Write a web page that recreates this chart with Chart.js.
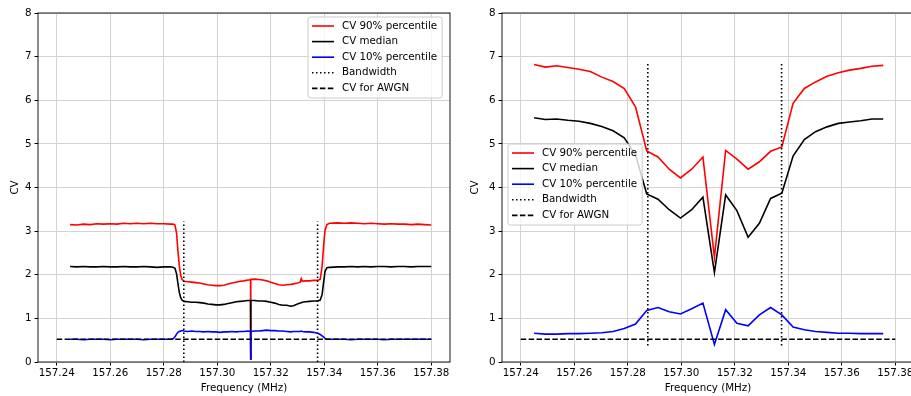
<!DOCTYPE html>
<html>
<head>
<meta charset="utf-8">
<script src="https://cdn.jsdelivr.net/npm/chart.js@4.4.1/dist/chart.umd.min.js"></script>
<style>
  html, body { margin: 0; padding: 0; background: #fff; overflow: hidden; width: 911px; height: 396px; }
  .panel { position: absolute; top: 0; }
</style>
</head>
<body>
<div class="panel" style="left:0"><canvas id="leftChart" width="460" height="396"></canvas></div>
<div class="panel" style="left:460px"><canvas id="rightChart" width="460" height="396"></canvas></div>
<script>
// fine-resolution spectrum (left panel)
const leftFreq = [
  157.2450, 157.2475, 157.2500, 157.2525, 157.2550, 157.2575, 157.2600, 157.2625, 157.2650, 157.2675,
  157.2700, 157.2725, 157.2750, 157.2775, 157.2800, 157.2825, 157.2835, 157.2842, 157.2848, 157.2853,
  157.2858, 157.2863, 157.2868, 157.2875, 157.2890, 157.2905, 157.2920, 157.2935, 157.2950, 157.2965,
  157.2980, 157.2995, 157.3010, 157.3025, 157.3040, 157.3055, 157.3070, 157.3085, 157.3100, 157.3115,
  157.31245, 157.3125, 157.31255, 157.3140, 157.3155, 157.3170, 157.3185, 157.3200, 157.3215, 157.3230,
  157.3245, 157.3260, 157.3275, 157.3285, 157.3300, 157.3310, 157.3314, 157.3318, 157.3330, 157.3345,
  157.3360, 157.3375, 157.3385, 157.3392, 157.3398, 157.3403, 157.3410, 157.3420, 157.3450, 157.3475,
  157.3500, 157.3525, 157.3550, 157.3575, 157.3600, 157.3625, 157.3650, 157.3675, 157.3700, 157.3725,
  157.3750, 157.3775, 157.3800
];
const leftP90 = [
  3.15, 3.14, 3.16, 3.15, 3.17, 3.16, 3.17, 3.16, 3.18, 3.17,
  3.18, 3.17, 3.18, 3.17, 3.17, 3.16, 3.16, 3.14, 2.95, 2.55,
  2.22, 2.00, 1.90, 1.85, 1.84, 1.83, 1.82, 1.81, 1.79, 1.77,
  1.76, 1.75, 1.75, 1.76, 1.79, 1.81, 1.83, 1.85, 1.86, 1.88,
  1.88, 0.05, 1.89, 1.90, 1.89, 1.88, 1.86, 1.83, 1.80, 1.77,
  1.76, 1.77, 1.78, 1.79, 1.81, 1.83, 1.91, 1.85, 1.86, 1.86,
  1.87, 1.87, 1.90, 2.20, 2.70, 3.02, 3.15, 3.18, 3.19, 3.18,
  3.19, 3.18, 3.17, 3.18, 3.17, 3.16, 3.17, 3.16, 3.16, 3.15,
  3.16, 3.15, 3.14
];
const leftMedian = [
  2.19, 2.18, 2.19, 2.18, 2.18, 2.19, 2.18, 2.18, 2.19, 2.18,
  2.18, 2.19, 2.18, 2.17, 2.18, 2.18, 2.17, 2.15, 2.02, 1.80,
  1.60, 1.48, 1.42, 1.39, 1.38, 1.37, 1.37, 1.36, 1.35, 1.33,
  1.32, 1.31, 1.31, 1.32, 1.34, 1.36, 1.38, 1.39, 1.40, 1.41,
  1.41, 0.05, 1.41, 1.41, 1.40, 1.40, 1.39, 1.37, 1.35, 1.32,
  1.30, 1.30, 1.28, 1.29, 1.33, 1.35, 1.36, 1.37, 1.38, 1.39,
  1.40, 1.40, 1.42, 1.55, 1.85, 2.08, 2.16, 2.17, 2.18, 2.18,
  2.19, 2.18, 2.19, 2.18, 2.19, 2.19, 2.18, 2.19, 2.19, 2.18,
  2.19, 2.19, 2.19
];
const leftP10 = [
  0.52, 0.52, 0.51, 0.52, 0.52, 0.52, 0.51, 0.52, 0.52, 0.52,
  0.52, 0.51, 0.52, 0.52, 0.52, 0.52, 0.53, 0.58, 0.64, 0.68,
  0.70, 0.71, 0.72, 0.71, 0.70, 0.71, 0.70, 0.70, 0.69, 0.70,
  0.69, 0.69, 0.68, 0.69, 0.69, 0.70, 0.69, 0.70, 0.70, 0.71,
  0.70, 0.05, 0.70, 0.71, 0.71, 0.72, 0.73, 0.72, 0.72, 0.71,
  0.71, 0.70, 0.69, 0.70, 0.70, 0.70, 0.71, 0.70, 0.69, 0.69,
  0.68, 0.66, 0.63, 0.60, 0.57, 0.54, 0.52, 0.52, 0.52, 0.52,
  0.51, 0.52, 0.52, 0.52, 0.52, 0.51, 0.52, 0.52, 0.52, 0.52,
  0.52, 0.52, 0.52
];

// coarse bins (right panel)
const rightFreq = [
  157.2450, 157.2492, 157.2534, 157.2576, 157.2618, 157.2660, 157.2703, 157.2745,
  157.2787, 157.2829, 157.2871, 157.2913, 157.2955, 157.2997, 157.3039, 157.3081,
  157.3124, 157.3166, 157.3208, 157.3250, 157.3292, 157.3334, 157.3376, 157.3418,
  157.3460, 157.3502, 157.3545, 157.3587, 157.3629, 157.3671, 157.3713, 157.3755
];
const rightP90 = [
  6.82, 6.76, 6.79, 6.75, 6.71, 6.66, 6.53, 6.43, 6.27, 5.85, 4.84, 4.70, 4.42, 4.22, 4.42, 4.70,
  2.40, 4.85, 4.65, 4.42, 4.59, 4.83, 4.93, 5.93, 6.27, 6.42, 6.55, 6.63, 6.69, 6.73, 6.78, 6.80
];
const rightMedian = [
  5.60, 5.56, 5.57, 5.54, 5.52, 5.47, 5.40, 5.30, 5.14, 4.75, 3.85, 3.73, 3.49, 3.30, 3.49, 3.78,
  2.05, 3.83, 3.47, 2.86, 3.18, 3.75, 3.87, 4.72, 5.10, 5.28, 5.39, 5.47, 5.50, 5.53, 5.57, 5.57
];
const rightP10 = [
  0.66, 0.64, 0.64, 0.65, 0.65, 0.66, 0.67, 0.70, 0.77, 0.87, 1.18, 1.25, 1.15, 1.10, 1.22, 1.35,
  0.40, 1.20, 0.89, 0.83, 1.08, 1.25, 1.08, 0.80, 0.74, 0.70, 0.68, 0.66, 0.66, 0.65, 0.65, 0.65
];

const bandEdges = [157.2875, 157.3375];
const awgnCV = 0.5227;
const awgnSpan = [157.24, 157.38];
const xTicks = [157.24, 157.26, 157.28, 157.30, 157.32, 157.34, 157.36, 157.38];

Chart.defaults.font.family = '"DejaVu Sans", sans-serif';
Chart.defaults.font.size = 10.3;
Chart.defaults.color = '#000';

const toPoints = (xs, ys) => xs.map((x, i) => ({ x: x, y: ys[i] }));

// axes frame + matplotlib-like legend box
const framePlugin = {
  id: 'frame',
  afterDatasetsDraw(chart) {
    const { ctx, chartArea: a } = chart;
    ctx.save();
    ctx.strokeStyle = '#000';
    ctx.lineWidth = 0.9;
    ctx.strokeRect(a.left, a.top, a.right - a.left, a.bottom - a.top);
    ctx.restore();
  },
  afterDraw(chart, args, opts) {
    const { ctx } = chart;
    const sets = chart.data.datasets;
    ctx.save();
    ctx.font = '10.3px "DejaVu Sans", sans-serif';
    let textW = 0;
    sets.forEach((ds) => { textW = Math.max(textW, ctx.measureText(ds.label).width); });
    const rowH = 15.6;
    const w = 4 + 22 + 8 + textW + 5;
    const h = rowH * sets.length + 3;
    const x0 = opts.x, y0 = opts.y;
    ctx.beginPath();
    ctx.roundRect(x0, y0, w, h, 2.5);
    ctx.fillStyle = 'rgba(255,255,255,0.8)';
    ctx.fill();
    ctx.strokeStyle = '#ccc';
    ctx.lineWidth = 1;
    ctx.stroke();
    sets.forEach((ds, i) => {
      const cy = y0 + 9 + i * rowH;
      ctx.beginPath();
      ctx.setLineDash(ds.borderDash || []);
      ctx.strokeStyle = ds.borderColor;
      ctx.lineWidth = ds.borderWidth;
      ctx.moveTo(x0 + 4, cy);
      ctx.lineTo(x0 + 26, cy);
      ctx.stroke();
      ctx.setLineDash([]);
      ctx.fillStyle = '#000';
      ctx.textBaseline = 'middle';
      ctx.fillText(ds.label, x0 + 34, cy);
    });
    ctx.restore();
  },
};

function makeChart(id, freq, p90, median, p10, bandRange, legendPos, yWidth, padRight) {
  const bandLines = [
    { x: bandEdges[0], y: bandRange[0] }, { x: bandEdges[0], y: bandRange[1] },
    { x: 157.3125, y: null },
    { x: bandEdges[1], y: bandRange[0] }, { x: bandEdges[1], y: bandRange[1] },
  ];
  const common = { pointRadius: 0, borderWidth: 1.6, tension: 0, fill: false };
  return new Chart(document.getElementById(id), {
    type: 'line',
    data: {
      datasets: [
        { ...common, label: 'CV 90% percentile', data: toPoints(freq, p90), borderColor: '#ff0000', order: 5 },
        { ...common, label: 'CV median', data: toPoints(freq, median), borderColor: '#000000', order: 4 },
        { ...common, label: 'CV 10% percentile', data: toPoints(freq, p10), borderColor: '#0000ff', order: 3 },
        { ...common, label: 'Bandwidth', data: bandLines, borderColor: '#000000', borderDash: [1.5, 2.5], spanGaps: false, order: 2 },
        { ...common, label: 'CV for AWGN', data: toPoints(awgnSpan, [awgnCV, awgnCV]), borderColor: '#000000', borderDash: [5.5, 2.4], order: 1 },
      ],
    },
    options: {
      responsive: false,
      animation: false,
      devicePixelRatio: 1,
      layout: { padding: { top: 13, right: padRight, bottom: 0, left: 0 } },
      plugins: {
        legend: { display: false },
        tooltip: { enabled: false },
        frame: legendPos,
      },
      scales: {
        x: {
          type: 'linear',
          min: 157.233,
          max: 157.387,
          afterBuildTicks: (scale) => { scale.ticks = xTicks.map((v) => ({ value: v })); },
          afterFit: (scale) => { scale.height = 34; },
          ticks: { padding: 2, callback: (v) => v.toFixed(2), maxRotation: 0, autoSkip: false },
          grid: { color: '#d3d3d3', lineWidth: 1, tickColor: '#000', tickLength: 3.5 },
          border: { display: false },
          title: { display: true, text: 'Frequency (MHz)', padding: { top: 0, bottom: 1.5 } },
        },
        y: {
          min: 0,
          max: 8,
          ticks: { stepSize: 1, padding: 3 },
          afterFit: (scale) => { scale.width = yWidth; },
          grid: { color: '#d3d3d3', lineWidth: 1, tickColor: '#000', tickLength: 3.5 },
          border: { display: false },
          title: { display: true, text: 'CV', padding: { top: 9, bottom: 0 } },
        },
      },
    },
    plugins: [framePlugin],
  });
}

makeChart('leftChart', leftFreq, leftP90, leftMedian, leftP10, [0, 3.22], { x: 308, y: 17 }, 38, 10);
makeChart('rightChart', rightFreq, rightP90, rightMedian, rightP10, [0.38, 6.84], { x: 48, y: 144 }, 42, 6);
</script>
</body>
</html>
